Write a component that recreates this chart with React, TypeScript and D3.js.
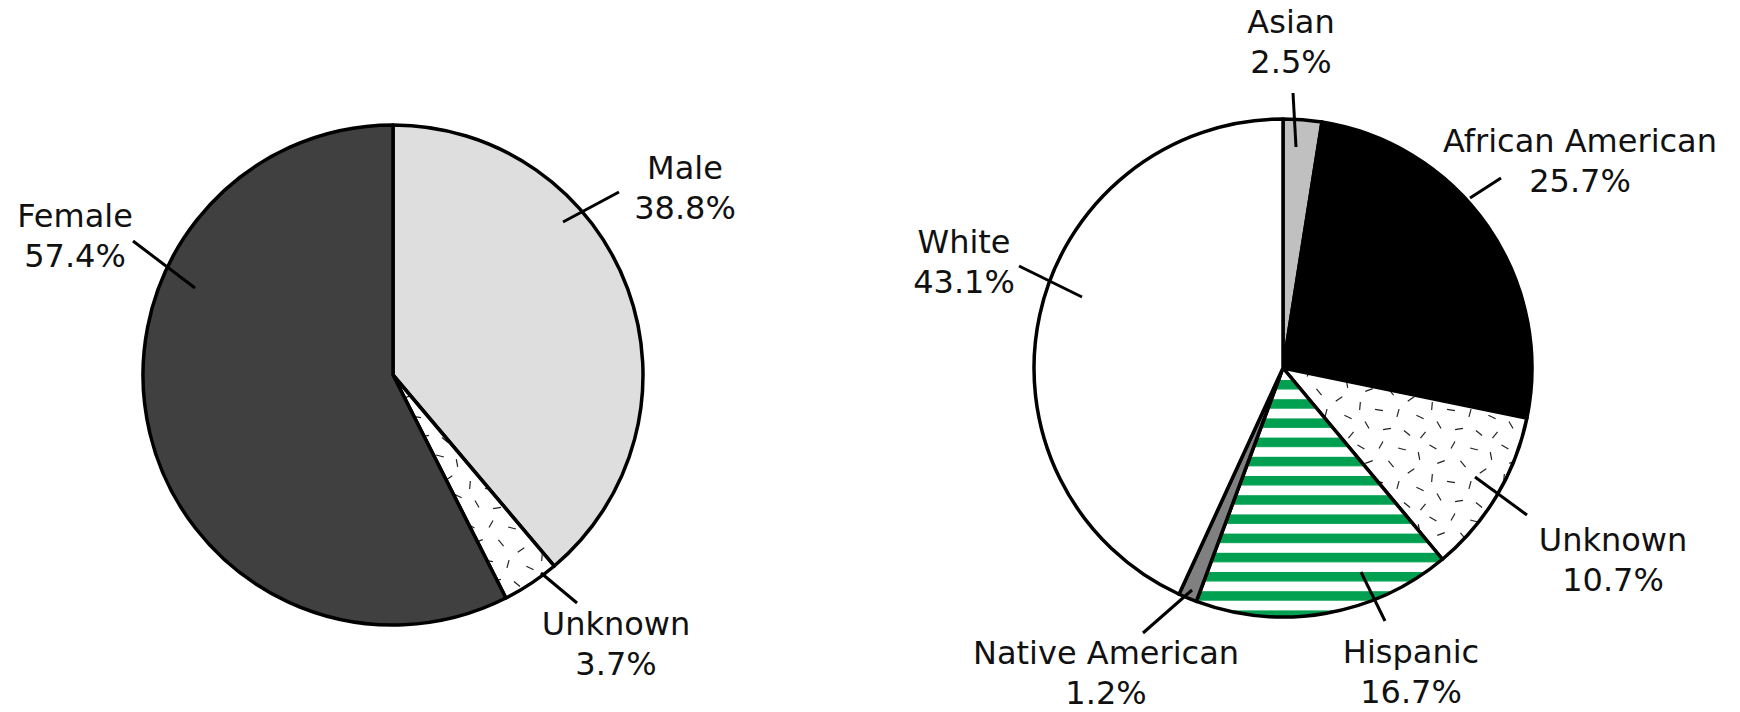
import React from "react";
import * as d3 from "d3";

// ---- Data ----
const genderCategories = ["Male", "Unknown", "Female"];
const genderValues = [38.8, 3.7, 57.4];

const raceCategories = ["Asian", "African American", "Unknown", "Hispanic", "Native American", "White"];
const raceValues = [2.5, 25.7, 10.7, 16.7, 1.2, 43.1];

// ---- Styling ----
const W = 1740;
const H = 712;
const FONT = "'DejaVu Sans', 'Liberation Sans', Arial, sans-serif";
const FONT_SIZE = 32;
const LINE_GAP = 40;

const genderFills: Record<string, string> = {
  Male: "#dedede",
  Unknown: "url(#dashPat)",
  Female: "#404040",
};
const raceFills: Record<string, string> = {
  Asian: "#c0c0c0",
  "African American": "#000000",
  Unknown: "url(#dashPat)",
  Hispanic: "url(#stripePat)",
  "Native American": "#808080",
  White: "#ffffff",
};

// label layout, relative to pie center: text anchor point and leader line
type LabelLayout = { tx: number; ty: number; l: [number, number, number, number] };
const genderLabels: Record<string, LabelLayout> = {
  Female: { tx: -318, ty: -148, l: [-260, -134, -198, -87] },
  Male: { tx: 292, ty: -196, l: [170, -153, 226, -183] },
  Unknown: { tx: 223, ty: 260, l: [148, 198, 184, 228] },
};
const raceLabels: Record<string, LabelLayout> = {
  Asian: { tx: 8, ty: -335, l: [10, -275, 13, -221] },
  "African American": { tx: 297, ty: -216, l: [187, -170, 218, -190] },
  Unknown: { tx: 330, ty: 183, l: [192, 109, 244, 147] },
  Hispanic: { tx: 128, ty: 295, l: [78, 204, 102, 253] },
  "Native American": { tx: -177, ty: 296, l: [-140, 265, -91, 222] },
  White: { tx: -319, ty: -115, l: [-264, -102, -201, -71] },
};

// dash texture tile: [x, y, angle]
const DASH_TILE = 72;
const dashes: [number, number, number][] = [
  [6, 7, 30], [26, 5, -60], [47, 9, 15], [64, 16, 80], [14, 22, -20],
  [36, 24, 50], [56, 31, -35], [5, 38, 95], [24, 42, 10], [43, 45, -75],
  [65, 49, 25], [12, 57, 60], [32, 61, -10], [52, 65, 40], [68, 67, -50],
];

interface PieProps {
  cx: number;
  cy: number;
  r: number;
  cats: string[];
  vals: number[];
  fills: Record<string, string>;
  labels: Record<string, LabelLayout>;
}

function Pie({ cx, cy, r, cats, vals, fills, labels }: PieProps) {
  const pie = d3
    .pie<number>()
    .sort(null)
    .value((d) => d)
    .startAngle(0)
    .endAngle(2 * Math.PI);
  const arcs = pie(vals);
  const arc = d3.arc<d3.PieArcDatum<number>>().innerRadius(0).outerRadius(r);
  return (
    <g transform={`translate(${cx},${cy})`}>
      {arcs.map((a, i) => (
        <path
          key={cats[i]}
          d={arc(a) || ""}
          fill={fills[cats[i]]}
          stroke="#000"
          strokeWidth={3.5}
          strokeLinejoin="round"
        />
      ))}
      {cats.map((c, i) => {
        const lb = labels[c];
        return (
          <g key={"lbl" + c}>
            <line x1={lb.l[0]} y1={lb.l[1]} x2={lb.l[2]} y2={lb.l[3]} stroke="#000" strokeWidth={3} />
            <text
              x={lb.tx}
              y={lb.ty}
              textAnchor="middle"
              fontFamily={FONT}
              fontSize={FONT_SIZE}
              fill="#111"
            >
              <tspan x={lb.tx}>{c}</tspan>
              <tspan x={lb.tx} dy={LINE_GAP}>
                {vals[i].toFixed(1)}%
              </tspan>
            </text>
          </g>
        );
      })}
    </g>
  );
}

export default function App() {
  return (
    <svg
      width={W}
      height={H}
      viewBox={`0 0 ${W} ${H}`}
      style={{ position: "absolute", left: 0, top: 0, background: "#fff" }}
    >
      <defs>
        <pattern id="dashPat" patternUnits="userSpaceOnUse" width={DASH_TILE} height={DASH_TILE}>
          <rect width={DASH_TILE} height={DASH_TILE} fill="#fff" />
          {dashes.map(([x, y, a], i) => {
            const rad = (a * Math.PI) / 180;
            const dx = Math.cos(rad) * 4;
            const dy = Math.sin(rad) * 4;
            return (
              <line key={i} x1={x - dx} y1={y - dy} x2={x + dx} y2={y + dy} stroke="#222" strokeWidth={1.2} />
            );
          })}
        </pattern>
        <pattern id="stripePat" patternUnits="userSpaceOnUse" width={40} height={19.2} y={12}>
          <rect width={40} height={19.2} fill="#fff" />
          <rect width={40} height={9.5} fill="#00a050" />
        </pattern>
      </defs>
      <rect width={W} height={H} fill="#fff" />
      <Pie cx={393} cy={375} r={250} cats={genderCategories} vals={genderValues} fills={genderFills} labels={genderLabels} />
      <Pie cx={1283} cy={368} r={249} cats={raceCategories} vals={raceValues} fills={raceFills} labels={raceLabels} />
    </svg>
  );
}
